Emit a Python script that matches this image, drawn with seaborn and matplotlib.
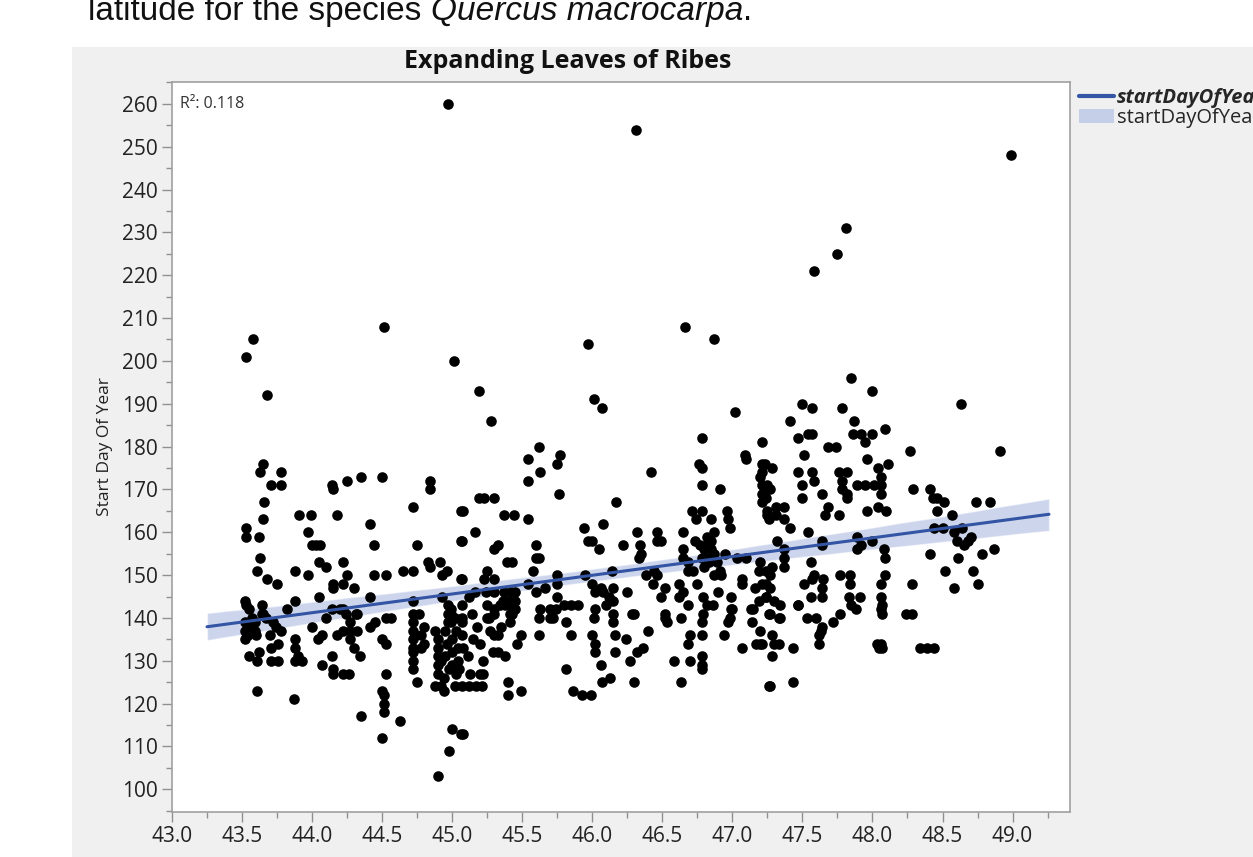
import numpy as np
import pandas as pd
import matplotlib
matplotlib.use("Agg")
import matplotlib.pyplot as plt
from matplotlib.patches import Rectangle, Patch
from matplotlib.lines import Line2D
from matplotlib.ticker import MultipleLocator, FormatStrFormatter
import seaborn as sns

# =============================
# Data (latitude, start day of year)
# =============================
band_435 = [
    (43.53, 201), (43.58, 205), (43.68, 192), (43.65, 176), (43.63, 174), (43.71, 171),
    (43.78, 174), (43.78, 171), (43.66, 167), (43.65, 163), (43.53, 161), (43.53, 159),
    (43.62, 159), (43.63, 154), (43.61, 151), (43.68, 149), (43.75, 148), (43.52, 144),
    (43.53, 143), (43.64, 143), (43.64, 141), (43.82, 142), (43.88, 144), (43.88, 151),
    (43.52, 139), (43.52, 137), (43.52, 135), (43.59, 139), (43.59, 137), (43.55, 131),
    (43.61, 130), (43.61, 123), (43.65, 141), (43.72, 139), (43.74, 138), (43.76, 134),
    (43.71, 133), (43.71, 130), (43.76, 130), (43.87, 121), (43.88, 135), (43.88, 133),
    (43.90, 131), (43.88, 130), (43.93, 130), (43.56, 138), (43.57, 140), (43.54, 136),
    (43.60, 136), (43.67, 140), (43.70, 136), (43.78, 137), (43.55, 142), (43.62, 132),
]
band_440 = [
    (43.91, 164), (43.99, 164), (43.97, 160), (43.97, 150), (44.00, 157), (44.03, 157),
    (44.06, 157), (44.05, 153), (44.10, 152), (44.05, 145), (44.14, 171), (44.15, 170),
    (44.18, 164), (44.25, 172), (44.35, 173), (44.50, 173), (44.15, 148), (44.15, 147),
    (44.22, 153), (44.25, 150), (44.22, 148), (44.30, 147), (44.14, 142), (44.22, 142),
    (44.31, 141), (44.41, 162), (44.44, 157), (44.44, 150), (44.53, 150), (44.41, 145),
    (44.53, 140), (44.56, 140), (44.04, 135), (44.07, 136), (44.07, 129), (44.10, 140),
    (44.14, 131), (44.15, 128), (44.15, 127), (44.22, 137), (44.27, 137), (44.32, 137),
    (44.20, 142), (44.24, 141), (44.27, 139), (44.27, 135), (44.30, 133), (44.34, 131),
    (44.22, 127), (44.26, 127), (44.32, 141), (44.41, 138), (44.35, 117), (44.50, 135),
    (44.53, 134), (44.50, 123), (44.51, 122), (44.51, 120), (44.51, 118), (44.50, 112),
    (44.53, 127), (44.63, 116), (44.51, 208), (44.00, 138), (44.18, 136), (44.45, 139),
]
band_447 = [
    (44.72, 166), (44.75, 157), (44.84, 172), (44.84, 170), (44.83, 153), (44.84, 152),
    (44.91, 153), (44.96, 151), (44.93, 150), (44.65, 151), (44.72, 151), (44.72, 144),
    (44.72, 141), (44.72, 139), (44.93, 145), (44.99, 142), (44.99, 141), (44.99, 139),
    (45.06, 165), (45.06, 158), (45.06, 149), (44.72, 137), (44.72, 135), (44.72, 133),
    (44.72, 132), (44.72, 130), (44.72, 128), (44.78, 136), (44.80, 134), (44.78, 133),
    (44.75, 125), (44.88, 137), (44.90, 135), (44.90, 133), (44.90, 131), (44.90, 129),
    (44.90, 127), (44.88, 124), (44.92, 124), (44.94, 123), (44.97, 143), (44.97, 141),
    (44.97, 139), (45.00, 135), (45.00, 132), (45.00, 129), (45.02, 124), (45.03, 127),
    (44.90, 103), (44.98, 109), (45.00, 114), (45.06, 113), (44.95, 137), (44.96, 134),
    (44.95, 131), (44.92, 130), (45.03, 137), (45.02, 140), (45.04, 133), (45.04, 130),
    (45.01, 200), (44.97, 260), (44.76, 141), (44.80, 138), (44.94, 126), (44.98, 128),
]
band_451 = [
    (45.08, 113), (45.07, 124), (45.12, 124), (45.17, 124), (45.21, 124), (45.22, 127),
    (45.22, 130), (45.27, 137), (45.30, 136), (45.33, 136), (45.26, 140), (45.30, 142),
    (45.41, 141), (45.41, 139), (45.45, 142), (45.29, 132), (45.33, 132), (45.38, 131),
    (45.40, 125), (45.40, 122), (45.49, 123), (45.49, 136), (45.07, 140), (45.07, 136),
    (45.08, 133), (45.05, 128), (45.13, 127), (45.20, 127), (45.19, 193), (45.28, 186),
    (45.08, 165), (45.19, 168), (45.23, 168), (45.30, 168), (45.37, 164), (45.44, 164),
    (45.16, 160), (45.07, 158), (45.30, 156), (45.33, 157), (45.39, 153), (45.43, 153),
    (45.25, 151), (45.23, 149), (45.30, 149), (45.07, 149), (45.16, 146), (45.24, 146),
    (45.30, 146), (45.37, 146), (45.42, 146), (45.45, 146), (45.36, 144), (45.40, 144),
    (45.45, 144), (45.34, 143), (45.38, 143), (45.42, 143), (45.43, 141), (45.25, 143),
    (45.25, 140), (45.30, 141), (45.07, 143), (45.07, 139), (45.12, 145), (45.15, 135),
    (45.11, 131), (45.18, 138), (45.35, 138), (45.46, 134), (45.14, 141), (45.20, 134),
]
band_455 = [
    (45.54, 177), (45.54, 172), (45.62, 180), (45.63, 174), (45.75, 176), (45.77, 178),
    (45.76, 169), (45.54, 163), (45.60, 157), (45.60, 154), (45.62, 154), (45.58, 151),
    (45.54, 148), (45.60, 146), (45.75, 150), (45.75, 148), (45.75, 145), (45.63, 142),
    (45.70, 140), (45.72, 140), (45.80, 143), (45.85, 143), (45.90, 143), (45.81, 139),
    (45.62, 140), (45.62, 136), (45.70, 142), (45.74, 142), (45.81, 128), (45.86, 123),
    (45.93, 122), (45.99, 122), (45.97, 204), (46.01, 191), (46.07, 189), (45.94, 161),
    (46.08, 162), (45.97, 158), (46.00, 158), (46.05, 156), (45.95, 150), (46.00, 148),
    (46.02, 146), (46.06, 147), (46.08, 146), (46.14, 151), (46.15, 147), (46.12, 145),
    (46.10, 143), (46.15, 141), (46.15, 139), (46.01, 140), (45.66, 147), (45.85, 136),
]
band_460 = [
    (46.02, 142), (46.00, 136), (46.02, 134), (46.02, 132), (46.06, 129), (46.07, 125),
    (46.13, 126), (46.15, 144), (46.16, 136), (46.16, 132), (46.24, 135), (46.28, 141),
    (46.27, 130), (46.32, 132), (46.36, 133), (46.30, 125), (46.17, 167), (46.22, 157),
    (46.30, 141), (46.32, 160), (46.34, 157), (46.35, 155), (46.33, 154), (46.46, 160),
    (46.46, 158), (46.49, 158), (46.42, 174), (46.31, 254), (46.44, 151), (46.43, 148),
    (46.46, 150), (46.52, 147), (46.49, 145), (46.52, 141), (46.52, 140), (46.58, 130),
    (46.63, 125), (46.38, 150), (46.25, 146), (46.40, 137),
]
band_466 = [
    (46.66, 208), (46.87, 205), (46.78, 182), (46.76, 176), (46.78, 175), (46.78, 171),
    (46.91, 170), (47.02, 188), (47.09, 178), (47.10, 177), (46.65, 160), (46.65, 156),
    (46.65, 154), (46.71, 165), (46.78, 165), (46.74, 163), (46.85, 163), (46.87, 160),
    (46.82, 159), (46.77, 157), (46.82, 157), (46.85, 156), (46.87, 155), (46.78, 154),
    (46.82, 154), (46.89, 153), (46.91, 151), (46.87, 150), (46.92, 150), (46.80, 156),
    (46.83, 153), (46.68, 153), (46.72, 151), (46.68, 151), (46.75, 148), (46.62, 148),
    (46.65, 146), (46.62, 145), (46.68, 143), (46.79, 145), (46.82, 143), (46.79, 141),
    (46.86, 143), (46.78, 139), (46.63, 140), (46.53, 139), (46.68, 134), (46.70, 136),
    (46.70, 130), (46.78, 136), (46.78, 131), (46.78, 129), (46.78, 128), (46.94, 136),
    (47.00, 142), (46.97, 139), (47.07, 133), (46.96, 165), (46.98, 161), (46.97, 163),
    (46.80, 152), (46.85, 158), (46.90, 146), (46.73, 158), (46.95, 155),
]
band_470 = [
    (47.03, 154), (47.10, 154), (47.07, 149), (47.07, 148), (46.99, 145), (46.99, 142),
    (46.98, 140), (47.13, 142), (47.15, 142), (47.19, 144), (47.16, 147), (47.21, 148),
    (47.20, 153), (47.19, 151), (47.24, 145), (47.26, 141), (47.21, 176), (47.21, 174),
    (47.21, 171), (47.21, 169), (47.21, 167), (47.25, 165), (47.21, 181), (47.23, 176),
    (47.28, 175), (47.20, 173), (47.25, 171), (47.27, 170), (47.24, 168), (47.31, 166),
    (47.37, 166), (47.25, 164), (47.26, 163), (47.31, 164), (47.37, 163), (47.41, 161),
    (47.37, 156), (47.37, 154), (47.37, 152), (47.24, 151), (47.28, 152), (47.27, 150),
    (47.24, 148), (47.27, 147), (47.24, 145), (47.30, 144), (47.34, 143), (47.27, 141),
    (47.33, 140), (47.34, 140), (47.28, 136), (47.30, 134), (47.33, 134), (47.20, 137),
    (47.20, 134), (47.28, 131), (47.27, 124), (47.43, 125), (47.43, 133), (47.47, 143),
    (47.41, 186), (47.14, 139), (47.17, 134), (47.21, 134), (47.26, 124), (47.32, 158),
]
band_475 = [
    (47.85, 196), (48.00, 193), (47.50, 190), (47.57, 189), (47.78, 189), (47.87, 186),
    (47.92, 183), (47.86, 183), (48.00, 183), (48.09, 184), (47.47, 182), (47.54, 183),
    (47.57, 183), (47.68, 180), (47.74, 180), (47.51, 178), (47.95, 181), (47.96, 177),
    (47.47, 174), (47.57, 174), (47.76, 174), (47.82, 174), (47.78, 172), (47.78, 170),
    (47.50, 171), (47.50, 168), (47.58, 172), (47.64, 169), (48.04, 175), (48.11, 176),
    (48.06, 173), (48.06, 171), (48.06, 169), (48.10, 165), (47.89, 171), (47.95, 171),
    (48.01, 171), (47.82, 169), (47.82, 168), (48.04, 166), (47.68, 166), (47.66, 164),
    (47.76, 164), (47.96, 165), (47.81, 231), (47.75, 225), (47.58, 221), (47.54, 160),
    (47.64, 158), (47.64, 157), (47.89, 159), (47.92, 157), (47.89, 156), (48.00, 158),
    (48.08, 156), (47.56, 153), (47.58, 150), (47.57, 149), (47.65, 149), (47.64, 147),
    (47.51, 148), (47.56, 145), (47.64, 145), (47.47, 143), (47.53, 140), (47.60, 140),
    (47.64, 138), (47.77, 150), (47.84, 150), (47.84, 148), (47.77, 141), (47.83, 145),
    (47.91, 145), (47.85, 143), (47.88, 142), (47.72, 139), (48.09, 154), (48.09, 150),
    (48.06, 148), (48.06, 145), (48.07, 143), (48.07, 141), (47.63, 137), (47.62, 136),
    (47.62, 134), (48.06, 142), (48.03, 134), (48.06, 134), (48.07, 133), (48.05, 133),
]
band_481 = [
    (48.27, 179), (48.29, 170), (48.41, 170), (48.43, 168), (48.46, 168), (48.51, 167),
    (48.46, 165), (48.57, 164), (48.74, 167), (48.84, 167), (48.44, 161), (48.50, 161),
    (48.58, 160), (48.64, 161), (48.70, 159), (48.68, 158), (48.65, 157), (48.60, 158),
    (48.41, 155), (48.61, 154), (48.52, 151), (48.58, 147), (48.72, 151), (48.75, 148),
    (48.78, 155), (48.87, 156), (48.28, 148), (48.24, 141), (48.28, 141), (48.34, 133),
    (48.39, 133), (48.44, 133), (48.63, 190), (48.91, 179), (48.99, 248),
]

bands = [band_435, band_440, band_447, band_451, band_455,
         band_460, band_466, band_470, band_475, band_481]
df = pd.DataFrame([p for b in bands for p in b], columns=['lat', 'startDayOfYear'])

r2_text = 'R\u00b2: 0.118'
title = 'Expanding Leaves of Ribes'
y_label = 'Start Day Of Year'
legend_labels = ['startDayOfYear', 'startDayOfYear']
caption = ['latitude for the species ', 'Quercus macrocarpa', '.']

line_color = '#3454a4'
band_color = '#8ea3d6'

# =============================
# Figure
# =============================
sns.set_style('white')
plt.rcParams['font.family'] = ['Open Sans', 'DejaVu Sans']

W, H = 1253, 857
fig = plt.figure(figsize=(W / 100, H / 100), dpi=100)
fig.patch.set_facecolor('white')
fig.patches.append(Rectangle((72 / W, 0), 1 - 72 / W, 1 - 47 / H,
                             transform=fig.transFigure, facecolor='#f0f0f0',
                             edgecolor='none', zorder=-10))

ax = fig.add_axes([172 / W, 1 - 812 / H, (1070 - 172) / W, (812 - 82) / H])
ax.set_zorder(1)
ax.set_facecolor('white')

sns.scatterplot(data=df, x='lat', y='startDayOfYear', color='black', s=58,
                linewidth=0, ax=ax, zorder=2)

# regression line spans the same range as the JMP fit
ax.set_xlim(43.25, 49.26)
sns.regplot(data=df, x='lat', y='startDayOfYear', scatter=False, truncate=False,
            color=line_color, line_kws={'linewidth': 2.2, 'zorder': 3},
            seed=3, ax=ax)
for coll in ax.collections[1:]:
    coll.set_alpha(0.45)
    coll.set_facecolor(band_color)
    coll.set_zorder(1)

ax.set_xlim(43.0, 49.41)
ax.set_ylim(94.7, 265.1)
ax.xaxis.set_major_locator(MultipleLocator(0.5))
ax.xaxis.set_minor_locator(MultipleLocator(0.25))
ax.yaxis.set_major_locator(MultipleLocator(10))
ax.yaxis.set_minor_locator(MultipleLocator(5))
ax.xaxis.set_major_formatter(FormatStrFormatter('%.1f'))
ax.tick_params(which='major', direction='out', length=7, width=1, color='#909090',
               labelsize=15, labelcolor='#222222', pad=3, left=True, bottom=True)
ax.tick_params(which='minor', direction='out', length=4, width=1, color='#909090',
               left=True, bottom=True)
for s in ax.spines.values():
    s.set_color('#a0a0a0')
    s.set_linewidth(1.2)
ax.set_xlabel('')
ax.set_ylabel(y_label, fontsize=12.5, color='#222222', labelpad=7)

ax.text(0.009, 0.97, r2_text, transform=ax.transAxes, fontsize=11.5,
        color='#333333', va='center', ha='left')

fig.text(568 / W, 1 - 61 / H, title, fontsize=18, fontweight='bold',
         ha='center', va='center', color='#111111')

# legend
handles = [Line2D([0], [0], color=line_color, linewidth=3),
           Patch(facecolor='#c5cfe8', edgecolor='none')]
leg = fig.legend(handles, legend_labels, loc='upper left',
                 bbox_to_anchor=(1079 / W, 1 - 88 / H), frameon=False,
                 fontsize=14.5, handlelength=1.75, handletextpad=0.15,
                 labelspacing=0.0, borderaxespad=0, borderpad=0)
leg.get_texts()[0].set_fontweight('bold')
leg.get_texts()[0].set_fontstyle('italic')

# caption from the page above the chart, cut at the top
renderer = fig.canvas.get_renderer()
x0 = 88 / W
y_base = 1 - 20 / H
for part in caption:
    style = 'italic' if part == caption[1] else 'normal'
    t = fig.text(x0, y_base, part, fontsize=24, family='Liberation Sans',
                 fontstyle=style, va='baseline', ha='left', color='#111111')
    bb = t.get_window_extent(renderer=renderer)
    x0 += bb.width / W

fig.savefig('out.png', dpi=100)
